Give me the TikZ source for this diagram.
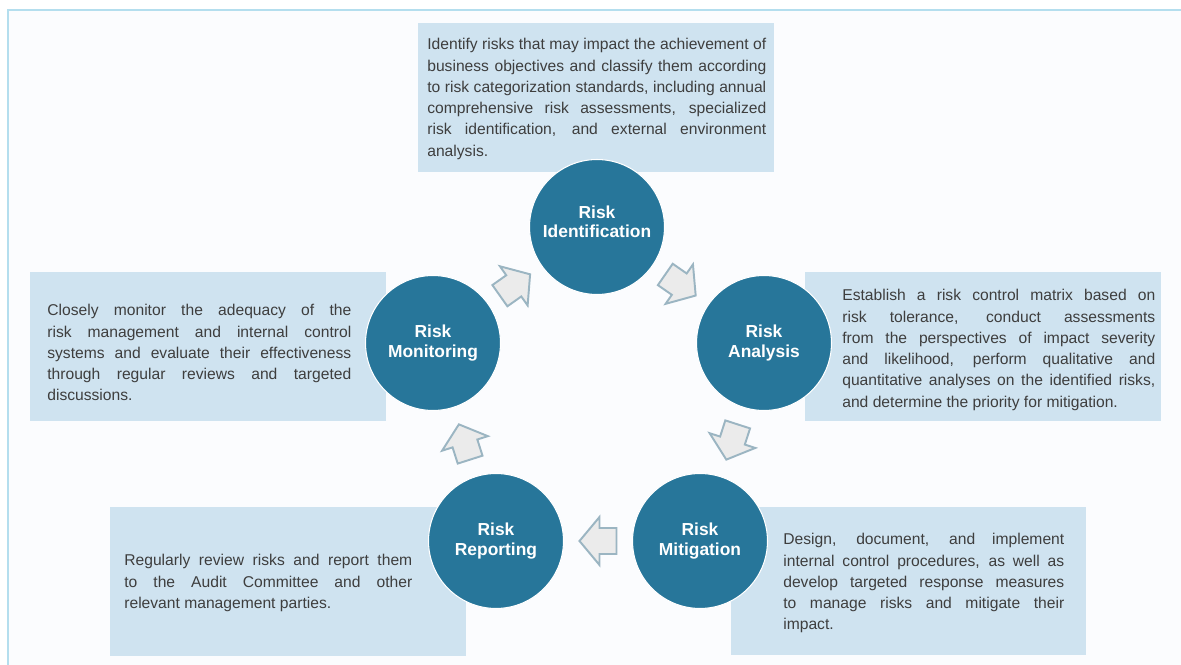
\documentclass[tikz,border=0pt]{standalone}
\usepackage{fontspec}
\setmainfont{Liberation Sans}

\definecolor{stageblue}{RGB}{39,118,154}
\definecolor{boxblue}{RGB}{207,227,240}
\definecolor{frameblue}{RGB}{180,222,238}
\definecolor{arrowfill}{RGB}{235,235,235}
\definecolor{arrowline}{RGB}{155,181,194}
\definecolor{textgray}{RGB}{62,62,62}
\definecolor{paper}{RGB}{251,252,254}

\begin{document}
\begin{tikzpicture}[x=0.02cm, y=-0.02cm,
        stage/.style={circle, fill=stageblue, draw=white, line width=0.6pt, minimum size=2.7cm, inner sep=0pt, align=center, text=white, font=\fontsize{9.9}{11.4}\selectfont\bfseries},
        infobox/.style={fill=boxblue},
        info/.style={anchor=base west, inner sep=0pt, align=justify, text=textgray, font=\fontsize{8.9}{12.07}\selectfont},
        cyclearrow/.pic={\draw[fill=arrowfill, draw=arrowline, line width=1.1pt] (18.5,0) -- (-1.5,24) -- (-1.5,13) -- (-18.5,13) -- (-18.5,-13) -- (-1.5,-13) -- (-1.5,-24) -- cycle;}]
        \useasboundingbox (0,0) rectangle (1181,665);
        \fill[white] (0,0) rectangle (1181,665);
        \fill[paper] (8,10) rectangle (1181,665);
        \draw[frameblue, line width=0.045cm] (8,665) -- (8,10) -- (1181,10);

        \fill[infobox] (418,23) rectangle (774,172);
        \fill[infobox] (30,272) rectangle (386,421);
        \fill[infobox] (805,272) rectangle (1161,421);
        \fill[infobox] (110,507) rectangle (466,656);
        \fill[infobox] (731,507) rectangle (1086,655);

        \node[info, text width=6.78cm] (identtext) at (427,50) {Identify risks that may impact the achievement of\linebreak business objectives and classify them according\linebreak to risk categorization standards, including annual\linebreak comprehensive risk assessments, specialized\linebreak risk identification, and external environment\linebreak analysis.};
        \node[info, text width=6.08cm] (monitortext) at (47,316) {Closely monitor the adequacy of the\linebreak risk management and internal control\linebreak systems and evaluate their effectiveness\linebreak through regular reviews and targeted\linebreak discussions.};
        \node[info, text width=6.26cm] (analysistext) at (842,301) {Establish a risk control matrix based on\linebreak risk tolerance, conduct assessments\linebreak from the perspectives of impact severity\linebreak and likelihood, perform qualitative and\linebreak quantitative analyses on the identified risks,\linebreak and determine the priority for mitigation.};
        \node[info, text width=5.76cm] (reporttext) at (124,566) {Regularly review risks and report them\linebreak to the Audit Committee and other\linebreak relevant management parties.};
        \node[info, text width=5.62cm] (mitigtext) at (783,545) {Design, document, and implement\linebreak internal control procedures, as well as\linebreak develop targeted response measures\linebreak to manage risks and mitigate their\linebreak impact.};

        \node[stage] (ident) at (597,227) {\raisebox{0.06cm}[\height][\depth]{\begin{tabular}{@{}c@{}}Risk\\[-1pt]Identification\end{tabular}}};
        \node[stage] (analysis) at (764,343) {Risk\\Analysis};
        \node[stage] (mitig) at (700,541) {Risk\\Mitigation};
        \node[stage] (report) at (496,541) {Risk\\Reporting};
        \node[stage] (monitor) at (433,343) {Risk\\Monitoring};

        \path (monitor) -- (ident) pic[midway, sloped, allow upside down]{cyclearrow};
        \path (ident) -- (analysis) pic[midway, sloped, allow upside down]{cyclearrow};
        \path (analysis) -- (mitig) pic[midway, sloped, allow upside down]{cyclearrow};
        \path (mitig) -- (report) pic[midway, sloped, allow upside down]{cyclearrow};
        \path (report) -- (monitor) pic[midway, sloped, allow upside down]{cyclearrow};
\end{tikzpicture}
\end{document}
